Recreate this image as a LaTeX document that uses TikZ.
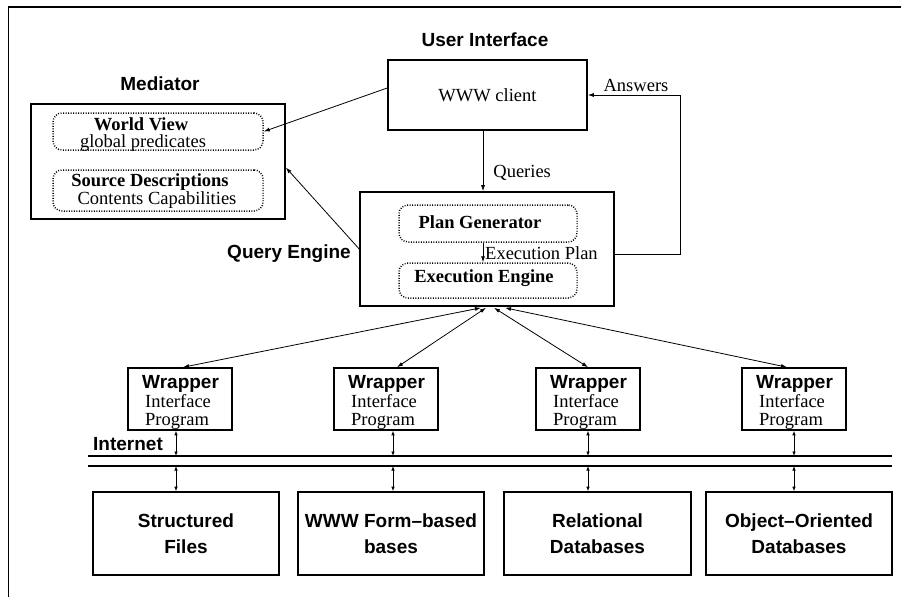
\documentclass[tikz,border=0pt]{standalone}
\usepackage{fontspec}
\setmainfont{Liberation Serif}
\setsansfont{Liberation Sans}
\usetikzlibrary{arrows.meta,calc}

\tikzset{
  box/.style={draw, line width=1.6pt, inner sep=0pt},
  dotbox/.style={draw, line width=1.5pt, dash pattern=on 0.9pt off 1.6pt,
                 rounded corners=9pt, inner sep=0pt},
  head/.style={font=\fontsize{19}{21}\selectfont\sffamily\bfseries, inner sep=0pt},
  dbtext/.style={font=\fontsize{19}{26}\selectfont\sffamily\bfseries, align=center},
  rm/.style={font=\fontsize{18.5}{19}\selectfont, inner sep=0pt},
  rmb/.style={font=\fontsize{18.5}{19}\selectfont\bfseries, inner sep=0pt},
  wline/.style={font=\fontsize{18.5}{19}\selectfont, inner sep=0pt, anchor=base west},
  conn/.style={line width=0.8pt, -{Latex[length=6pt,width=4pt]}},
  biconn/.style={line width=0.8pt, {Latex[length=6pt,width=4pt]}-{Latex[length=6pt,width=4pt]}},
  tick/.style={line width=0.8pt, {Latex[length=4.5pt,width=3.5pt]}-{Latex[length=4.5pt,width=3.5pt]}},
}

\begin{document}
\begin{tikzpicture}[x=1pt, y=-1pt]
\useasboundingbox (0,0) rectangle (901,597);

% outer frame (top and left edges)
\draw[line width=1.8pt] (8.5,597) -- (8.5,7) -- (901,7);

% ---------------- Mediator ----------------
\node[head] (medlbl) at (160,84) {Mediator};
\node[box, minimum width=254pt, minimum height=115pt] (med) at (158,161.5) {};
\node[dotbox, minimum width=210pt, minimum height=37pt] (wv) at (158,131.5) {};
\node[rmb] (wvt) at (141,124) {World View};
\node[rm] (wvs) at (143,143) {global predicates};
\node[dotbox, minimum width=210pt, minimum height=41pt] (sd) at (158,190.5) {};
\node[rmb] (sdt) at (150,182) {Source Descriptions};
\node[rm] (sds) at (157,200) {Contents Capabilities};

% ---------------- User interface ----------------
\node[head] (uilbl) at (485,40) {User Interface};
\node[box, rm, minimum width=199pt, minimum height=70pt] (www) at (487.5,95) {WWW client};

% ---------------- Query engine ----------------
\node[head] (qelbl) at (289,254) {Query Engine};
\node[box, minimum width=254pt, minimum height=114pt] (qe) at (487,249) {};
\node[dotbox, minimum width=178pt, minimum height=37pt] (pg) at (488,223.5) {};
\node[rmb] (pgt) at (480,222) {Plan Generator};
\node[dotbox, minimum width=178pt, minimum height=35pt] (ee) at (488,280.5) {};
\node[rmb] (eet) at (484,278.5) {Execution Engine};

% connectors around the query engine
\draw[conn] ([yshift=7pt]www.west) -- (wv.east);
\draw[conn] (qe.west) -- ([yshift=-6pt]med.east);
\draw[conn] ([xshift=-4.5pt]www.south) -- ([xshift=-4pt]qe.north)
  node[rm, pos=0.7, anchor=west, xshift=10pt] (qlbl) {Queries};
\draw[conn] ([xshift=-5pt]pg.south) -- ([xshift=-5pt]ee.north);
\node[rm, anchor=west] (eplbl) at (485,253) {Execution Plan};
\draw[conn] ([yshift=-5pt]qe.east) -- ++(66,0) |- (www.east);
\node[rm] (anslbl) at (636,85) {Answers};

% ---------------- Wrappers ----------------
\foreach \i/\x in {1/128,2/334,3/536,4/742}{
  \node[box, minimum width=104pt, minimum height=62pt] (w\i) at ({\x+52},399) {};
  \node[head, anchor=base west] (wt\i) at ({\x+14},388) {Wrapper};
  \node[wline, text depth=0pt] (wi\i) at ({\x+17},407.5) {Interface};
  \node[wline, text height=12pt] (wp\i) at ({\x+17},425.5) {Program};
}

\draw[biconn] ([xshift=-6pt,yshift=-1pt]qe.south) -- ([xshift=3pt]w1.north);
\draw[biconn] ([xshift=-1pt,yshift=-1pt]qe.south) -- ([xshift=11pt]w2.north);
\draw[biconn] ([xshift=7pt,yshift=-1pt]qe.south) -- (w3.north);
\draw[biconn] ([xshift=18pt,yshift=-1pt]qe.south) -- ([xshift=-7pt]w4.north);

% ---------------- Internet ----------------
\node[head] (netlbl) at (128,444) {Internet};
\coordinate (nA) at (88,456);
\coordinate (nAe) at (892,456);
\coordinate (nB) at (88,466);
\coordinate (nBe) at (892,466);
\draw[line width=1.6pt] (nA) -- (nAe);
\draw[line width=1.6pt] (nB) -- (nBe);

% ---------------- Sources ----------------
\node[box, dbtext, minimum width=186pt, minimum height=83pt] (db1) at (186,533.5) {Structured\\Files};
\node[box, dbtext, minimum width=186pt, minimum height=83pt] (db2) at (391,533.5) {WWW Form–based\\bases};
\node[box, dbtext, minimum width=187pt, minimum height=83pt] (db3) at (597.5,533.5) {Relational\\Databases};
\node[box, dbtext, minimum width=186pt, minimum height=83pt] (db4) at (799,533.5) {Object–Oriented\\Databases};

\coordinate (t1) at ([xshift=-4pt]w1.south);
\coordinate (t2) at ([xshift=7pt]w2.south);
\coordinate (t3) at (w3.south);
\coordinate (t4) at (w4.south);
\foreach \i in {1,2,3,4}{
  \draw[tick] (t\i) -- (t\i |- nA);
  \draw[tick] (t\i |- nB) -- (t\i |- db\i.north);
}
\end{tikzpicture}
\end{document}
